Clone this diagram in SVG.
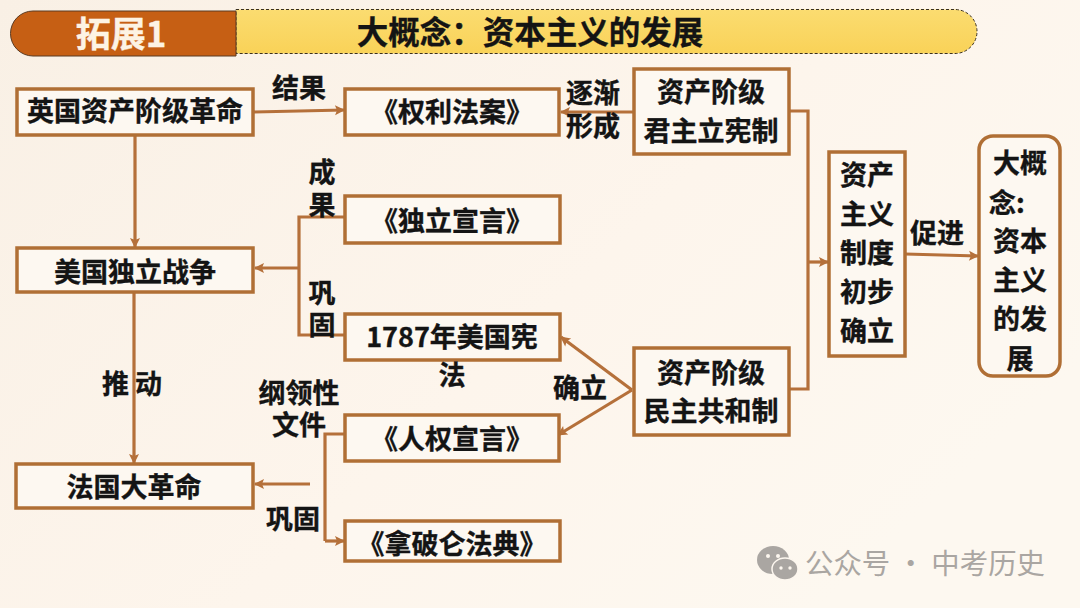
<svg xmlns="http://www.w3.org/2000/svg" width="1080" height="608" viewBox="0 0 1080 608">
<style>
text{font-family:"Noto Sans CJK SC","Noto Sans",sans-serif;font-weight:700;fill:#141414;text-anchor:middle;font-size:27px;stroke:#141414;stroke-width:.35}
.box{fill:#fdf8f1;stroke:#b06f35;stroke-width:3.5}
.c{fill:none;stroke:#b5703a;stroke-width:3.2}
.a{marker-end:url(#ah)}
.wm{fill:#aaa6a2;stroke:none;font-weight:400;font-size:28.4px}
</style>
<defs>
<linearGradient id="bg" x1="0" y1="0" x2="1" y2="0.6"><stop offset="0" stop-color="#f9f0e5"/><stop offset="0.6" stop-color="#fdf5ec"/><stop offset="1" stop-color="#fdf8f0"/></linearGradient>
<linearGradient id="hd" x1="0" y1="0" x2="0" y2="1"><stop offset="0" stop-color="#fbdc70"/><stop offset="1" stop-color="#f9d258"/></linearGradient>
<marker id="ah" markerUnits="userSpaceOnUse" markerWidth="12" markerHeight="12" refX="10" refY="6" orient="auto"><path d="M1 1L11 6L1 11L3 6Z" fill="#b5703a"/></marker>
</defs>
<rect width="1080" height="608" fill="url(#bg)"/>
<g id="header">
<path d="M236 9.500H955a22 22 0 0 1 22 22a22 22 0 0 1-22 22H236Z" fill="url(#hd)" stroke="#3a3020" stroke-width="1" stroke-dasharray="3 2"/>
<path d="M236 11H33a22 22 0 0 0 0 45H236Z" fill="#c65f14" stroke="#5b3a20" stroke-width="1"/>
<text x="121" y="47" style="fill:#fdf3e4;stroke:#fdf3e4;font-size:35px">拓展1</text>
<text x="530" y="44" style="font-size:31.500px">大概念：资本主义的发展</text>
</g>
<g id="connectors">
<path class="c a" d="M253 112L344 110"/>
<path class="c a" d="M633 112L561 112"/>
<path class="c a" d="M135 135V247"/>
<path class="c a" d="M134 292V463"/>
<path class="c" d="M344 217H299V335H344"/>
<path class="c a" d="M299 268H255"/>
<path class="c" d="M790 111H808V389H790"/>
<path class="c a" d="M808 262H828"/>
<path class="c a" d="M905 254L978 256"/>
<path class="c a" d="M632 390L561 337"/>
<path class="c a" d="M632 390L558 435"/>
<path class="c" d="M344 434H325V541"/>
<path class="c a" d="M325 541H344"/>
<path class="c a" d="M310 484H255"/>
</g>
<g id="n1"><rect class="box" x="17" y="89" width="236" height="46"/><text x="135" y="121">英国资产阶级革命</text></g>
<g id="n2"><rect class="box" x="345" y="89" width="214" height="46"/><text x="452" y="122">《权利法案》</text></g>
<g id="n3"><rect class="box" x="634" y="69" width="155" height="85"/><text x="711" y="102">资产阶级<tspan x="711" dy="39">君主立宪制</tspan></text></g>
<g id="n4"><rect class="box" x="345" y="196" width="215" height="47"/><text x="452" y="231">《独立宣言》</text></g>
<g id="n5"><rect class="box" x="17" y="248" width="236" height="44"/><text x="135" y="282">美国独立战争</text></g>
<g id="n6"><rect class="box" x="345" y="314" width="215" height="46"/><text x="452" y="347">1787年美国宪<tspan x="452" dy="38">法</tspan></text></g>
<g id="n7"><rect class="box" x="634" y="348" width="155" height="87"/><text x="711" y="383">资产阶级<tspan x="711" dy="38">民主共和制</tspan></text></g>
<g id="n8"><rect class="box" x="345" y="415" width="214" height="46"/><text x="452" y="449">《人权宣言》</text></g>
<g id="n9"><rect class="box" x="16" y="464" width="237" height="44"/><text x="134" y="497">法国大革命</text></g>
<g id="n10"><rect class="box" x="345" y="521" width="215" height="40"/><text x="452" y="554">《拿破仑法典》</text></g>
<g id="n11"><rect class="box" x="829" y="152" width="76" height="204"/><text x="867" y="185">资产<tspan x="867" dy="39">主义</tspan><tspan x="867" dy="39">制度</tspan><tspan x="867" dy="39">初步</tspan><tspan x="867" dy="39">确立</tspan></text></g>
<g id="n12"><rect class="box" x="979" y="136" width="81" height="240" rx="14"/><text x="1020" y="173">大概<tspan x="1007" dy="40">念:</tspan><tspan x="1020" dy="38">资本</tspan><tspan x="1020" dy="39">主义</tspan><tspan x="1020" dy="39">的发</tspan><tspan x="1020" dy="40">展</tspan></text></g>
<g id="labels">
<text x="299" y="98">结果</text>
<text x="593" y="103">逐渐<tspan x="593" dy="33">形成</tspan></text>
<text x="322" y="182">成<tspan x="322" dy="33">果</tspan></text>
<text x="322" y="303">巩<tspan x="322" dy="32">固</tspan></text>
<text x="132" y="394" xml:space="preserve">推 动</text>
<text x="299" y="403">纲领性<tspan x="299" dy="32">文件</tspan></text>
<text x="293" y="529">巩固</text>
<text x="580" y="398">确立</text>
<text x="937" y="243">促进</text>
</g>
<g id="watermark">
<ellipse cx="773" cy="560" rx="16" ry="14" fill="#aaa6a2"/>
<ellipse cx="785" cy="569" rx="13" ry="11" fill="#aaa6a2" stroke="#fdf7ef" stroke-width="1.500"/>
<g fill="#fdf7ef"><circle cx="768" cy="556" r="2"/><circle cx="778" cy="556" r="2"/><circle cx="781" cy="568" r="1.700"/><circle cx="790" cy="568" r="1.700"/></g>
<text class="wm" x="925" y="574" xml:space="preserve">公众号 · 中考历史</text>
</g>
</svg>
